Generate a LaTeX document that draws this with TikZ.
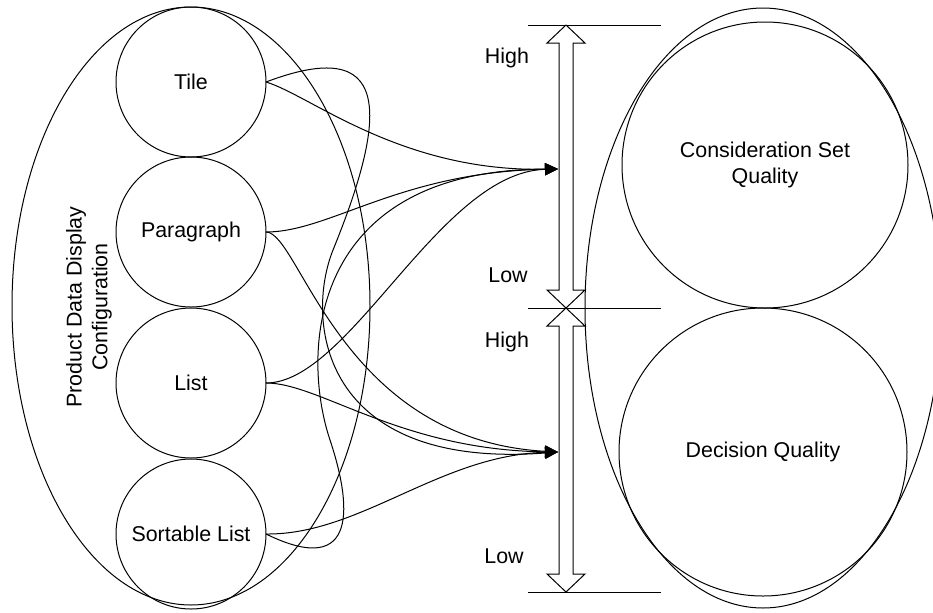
\documentclass[tikz,border=0pt]{standalone}
\usepackage{fontspec}
\setmainfont{Liberation Sans}
\usetikzlibrary{shapes.geometric, arrows.meta}

\tikzset{
	dispcircle/.style={draw, circle, minimum size=75pt, inner sep=0pt, outer sep=0pt},
	qualcircle/.style={draw, circle, inner sep=0pt, outer sep=0pt, align=center},
	groupell/.style={draw, ellipse, inner sep=0pt, outer sep=0pt},
	feed/.style={-{Triangle[length=6.5pt, width=6pt]}}
}

\begin{document}
\begin{tikzpicture}[x=0.5pt, y=-0.5pt, line width=0.5pt, font=\fontsize{10.7}{12.8}\selectfont]
				\useasboundingbox (0,0) rectangle (933,612);
				% display configurations
				\node[groupell, minimum width=179pt, minimum height=299pt] (PDDC)at(191, 306) {};
				\node[rotate=90, align=center] (PDDCtext)at(89, 307) {Product Data Display\\Configuration};
				\node[dispcircle] (T)at(191, 82) {Tile};
				\node[dispcircle] (P)at(191, 232) {Paragraph};
				\node[dispcircle] (L)at(191, 383) {List};
				\node[dispcircle] (SL)at(191, 534) {Sortable List};
				% quality outcomes
				\node[groupell, minimum width=178pt, minimum height=300pt] (Q)at(763, 308) {};
				\node[qualcircle, minimum size=143pt] (CSQ)at(765, 165) {Consideration Set\\Quality};
				\node[qualcircle, minimum size=144pt] (DQ)at(763, 452) {Decision Quality};
				% high/low scales
				\foreach \y in {25, 308, 592}
					\draw (528, \y) -- (661, \y);
				\foreach \t/\b in {25/308, 308/592}
					\draw (566, \t) -- (585, \t+18) -- (573, \t+18) -- (573, \b-18) -- (585, \b-18) -- (566, \b)
						-- (547, \b-18) -- (559, \b-18) -- (559, \t+18) -- (547, \t+18) -- cycle;
				\node (H1)at(507, 58) {High};
				\node (L1)at(508, 275) {Low};
				\node (H2)at(507, 342) {High};
				\node (L2)at(504, 556) {Low};
				\coordinate (CSQin)at(558, 169);
				\coordinate (DQin)at(558, 452);
				% links
				\draw[feed] (T.east) .. controls (310, 95) and (400, 172) .. (CSQin);
				\draw[feed] (T.east) .. controls (390, 35) and (390, 110) .. (333, 250) .. controls (305, 320) and (320, 470) .. (DQin);
				\draw[feed] (P.east) .. controls (330, 232) and (400, 172) .. (CSQin);
				\draw[feed] (P.east) .. controls (300, 232) and (340, 440) .. (DQin);
				\draw[feed] (L.east) .. controls (350, 383) and (440, 172) .. (CSQin);
				\draw[feed] (L.east) .. controls (320, 383) and (400, 450) .. (DQin);
				\draw[feed] (SL.east) .. controls (360, 580) and (351, 503) .. (330, 440) .. controls (300, 350) and (310, 170) .. (CSQin);
				\draw[feed] (SL.east) .. controls (360, 535) and (440, 455) .. (DQin);
			\end{tikzpicture}
\end{document}
